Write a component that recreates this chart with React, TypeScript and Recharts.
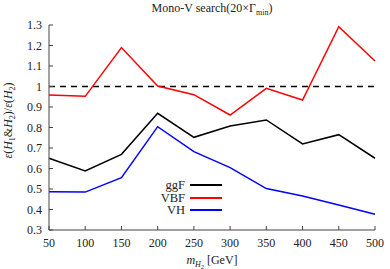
import React from 'react'
import {
    LineChart,
    Line,
    XAxis,
    YAxis,
    ReferenceLine,
    Legend,
} from 'recharts'

const masses = [50, 100, 150, 200, 250, 300, 350, 400, 450, 500]
const ggF = [0.65, 0.588, 0.669, 0.869, 0.752, 0.807, 0.837, 0.72, 0.765, 0.65]
const VBF = [0.959, 0.952, 1.19, 1.002, 0.96, 0.861, 0.991, 0.934, 1.292, 1.124]
const VH = [0.487, 0.485, 0.555, 0.804, 0.682, 0.604, 0.502, 0.466, 0.422, 0.377]

const xTicks = [50, 100, 150, 200, 250, 300, 350, 400, 450, 500]
const yTicks = [0.3, 0.4, 0.5, 0.6, 0.7, 0.8, 0.9, 1, 1.1, 1.2, 1.3]

const series = [
    { key: 'ggF', name: 'ggF', color: '#000000' },
    { key: 'VBF', name: 'VBF', color: '#ff0000' },
    { key: 'VH', name: 'VH', color: '#0000ff' },
]

const data = masses.map((m, i) => ({ m, ggF: ggF[i], VBF: VBF[i], VH: VH[i] }))

const FONT = '"Liberation Serif", "DejaVu Serif", serif'
const AXIS = '#444444'

const fmtY = (v: number) => (Math.abs(v - 1) < 1e-9 ? '1' : v.toFixed(1))

const XLabel = (props: any) => {
    const vb = props.viewBox || {}
    const cx = vb.x + vb.width / 2
    return (
        <text x={cx} y={vb.y + 34} textAnchor='middle' fontFamily={FONT} fontSize={12} fill='#222'>
            <tspan fontStyle='italic'>m</tspan>
            <tspan fontStyle='italic' fontSize={8} dy={3}>H</tspan>
            <tspan fontSize={6} dy={2}>2</tspan>
            <tspan dy={-5}> [GeV]</tspan>
        </text>
    )
}

const YLabel = (props: any) => {
    const vb = props.viewBox || {}
    const cy = vb.y + vb.height / 2 - 7
    const x = 12
    return (
        <text
            x={x}
            y={cy}
            textAnchor='middle'
            fontFamily={FONT}
            fontSize={12}
            fill='#222'
            transform={`rotate(-90 ${x} ${cy})`}
        >
            <tspan fontStyle='italic'>ε</tspan>
            <tspan>(</tspan>
            <tspan fontStyle='italic'>H</tspan>
            <tspan fontSize={8} dy={3}>1</tspan>
            <tspan dy={-3}>&amp;</tspan>
            <tspan fontStyle='italic'>H</tspan>
            <tspan fontSize={8} dy={3}>2</tspan>
            <tspan dy={-3}>)/</tspan>
            <tspan fontStyle='italic'>ε</tspan>
            <tspan>(</tspan>
            <tspan fontStyle='italic'>H</tspan>
            <tspan fontSize={8} dy={3}>2</tspan>
            <tspan dy={-3}>)</tspan>
        </text>
    )
}

const LegendBox = () => (
    <div style={{ fontFamily: FONT, fontSize: 12.5, color: '#222', lineHeight: '12.5px' }}>
        {series.map((s) => (
            <div
                key={s.key}
                style={{ display: 'flex', alignItems: 'center', justifyContent: 'flex-end', height: 12.5 }}
            >
                <span>{s.name}</span>
                <span
                    style={{
                        display: 'inline-block',
                        width: 32,
                        height: 2,
                        background: s.color,
                        marginLeft: 5,
                    }}
                />
            </div>
        ))}
    </div>
)

const App: React.FC = () => {
    return (
        <div style={{ position: 'absolute', left: 0, top: 0, width: 390, height: 269, background: '#fff' }}>
            <div
                style={{
                    position: 'absolute',
                    left: 0,
                    width: 424,
                    top: 1,
                    textAlign: 'center',
                    fontFamily: FONT,
                    fontSize: 12,
                    color: '#222',
                    zIndex: 2,
                }}
            >
                Mono-V search(20×Γ<sub style={{ fontSize: 8 }}>min</sub>)
            </div>
            <LineChart
                width={390}
                height={269}
                data={data}
                margin={{ top: 25, right: 15, left: 0, bottom: 0 }}
            >
                <XAxis
                    dataKey='m'
                    type='number'
                    domain={[50, 500]}
                    ticks={xTicks}
                    height={39}
                    tickSize={-4}
                    tickMargin={12}
                    stroke={AXIS}
                    tick={{ fontFamily: FONT, fontSize: 12, fill: '#222' }}
                    label={XLabel}
                />
                <XAxis
                    xAxisId='top'
                    dataKey='m'
                    type='number'
                    orientation='top'
                    domain={[50, 500]}
                    ticks={xTicks}
                    height={0}
                    tickSize={-4}
                    stroke={AXIS}
                    tickFormatter={() => ''}
                />
                <YAxis
                    type='number'
                    domain={[0.3, 1.3]}
                    ticks={yTicks}
                    width={49}
                    tickSize={-4}
                    tickMargin={11}
                    stroke={AXIS}
                    tickFormatter={fmtY}
                    tick={{ fontFamily: FONT, fontSize: 12, fill: '#222' }}
                    label={YLabel}
                />
                <YAxis
                    yAxisId='right'
                    orientation='right'
                    type='number'
                    domain={[0.3, 1.3]}
                    ticks={yTicks}
                    width={0}
                    tickSize={-4}
                    stroke={AXIS}
                    tickFormatter={() => ''}
                />
                <ReferenceLine y={1} stroke='#000' strokeWidth={1.5} strokeDasharray='6 5' />
                {series.map((s) => (
                    <Line
                        key={s.key}
                        dataKey={s.key}
                        name={s.name}
                        stroke={s.color}
                        strokeWidth={1.5}
                        dot={false}
                        isAnimationActive={false}
                    />
                ))}
                <Legend
                    layout='vertical'
                    align='center'
                    verticalAlign='middle'
                    content={LegendBox}
                    wrapperStyle={{ position: 'absolute', left: 'auto', right: 168, top: 179, width: 'auto' }}
                />
            </LineChart>
        </div>
    )
}

export default App
